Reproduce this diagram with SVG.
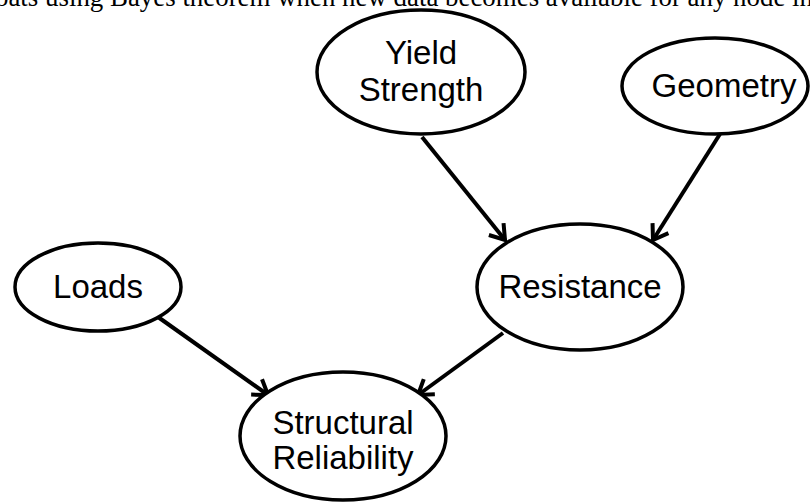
<svg xmlns="http://www.w3.org/2000/svg" width="810" height="504" viewBox="0 0 810 504">
<defs>
<style>
.node ellipse{fill:#fff;stroke:#000;stroke-width:3.5}
.node text{font-family:"Liberation Sans",Arial,sans-serif;font-size:33px;fill:#000;text-anchor:middle}
.edge{stroke:#000;stroke-width:4;fill:none;marker-end:url(#arr)}
.cap{font-family:"Liberation Serif","Times New Roman",serif;font-size:26.5px;fill:#000}
</style>
<marker id="arr" viewBox="0 0 24 24" markerWidth="24" markerHeight="24" refX="20" refY="12" orient="auto" markerUnits="userSpaceOnUse">
<path d="M6,2.6 L20,12 L6,21.4" fill="none" stroke="#000" stroke-width="4" stroke-linejoin="miter" stroke-linecap="butt"/>
</marker>
</defs>
<rect width="810" height="504" fill="#fff"/>
<text class="cap" x="-5" y="6" textLength="818" lengthAdjust="spacingAndGlyphs">oats using Bayes theorem when new data becomes available for any node in</text>
<g id="edges">
<line class="edge" x1="422" y1="137" x2="505" y2="240"/>
<line class="edge" x1="720" y1="134" x2="653" y2="240"/>
<line class="edge" x1="158" y1="317" x2="268" y2="395"/>
<line class="edge" x1="503" y1="333" x2="418" y2="395"/>
</g>
<g id="yield" class="node">
<ellipse cx="421" cy="72" rx="104" ry="62"/>
<text x="421" y="64">Yield</text>
<text x="421" y="101">Strength</text>
</g>
<g id="geometry" class="node">
<ellipse cx="715" cy="86" rx="93" ry="48"/>
<text x="724" y="97">Geometry</text>
</g>
<g id="loads" class="node">
<ellipse cx="98" cy="287" rx="83" ry="44"/>
<text x="98" y="298">Loads</text>
</g>
<g id="resistance" class="node">
<ellipse cx="580" cy="287" rx="103" ry="63"/>
<text x="580" y="298">Resistance</text>
</g>
<g id="structural" class="node">
<ellipse cx="343" cy="436" rx="103" ry="64"/>
<text x="343" y="434">Structural</text>
<text x="343" y="469">Reliability</text>
</g>
</svg>
